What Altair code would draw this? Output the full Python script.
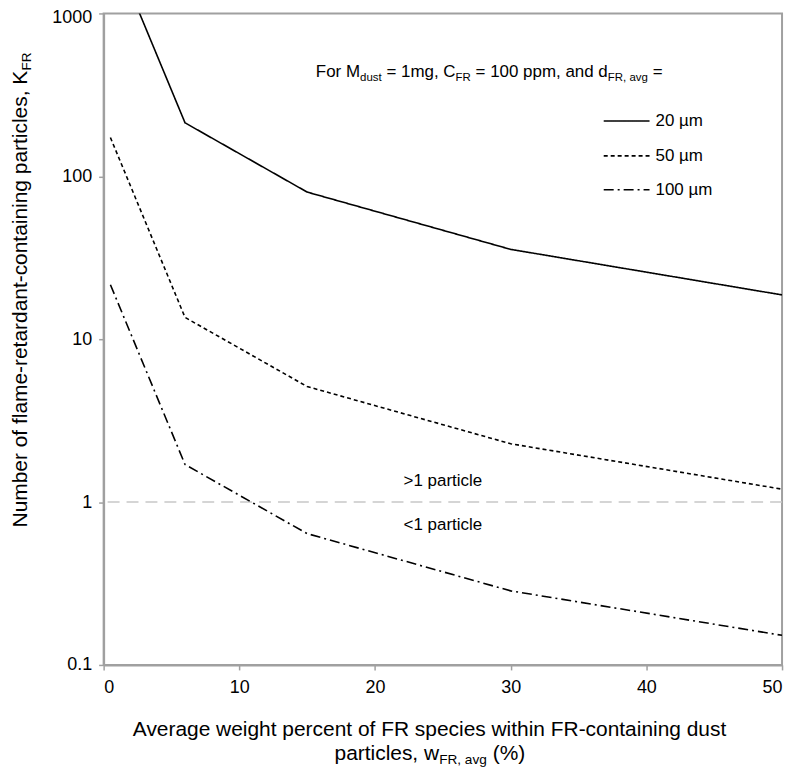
import altair as alt
import pandas as pd

# ---- data ----
w_fr = [0.5, 6, 15, 30, 50]
k_20um = [2700, 213, 80, 35.6, 18.7]
k_50um = [173, 13.6, 5.12, 2.28, 1.20]
k_100um = [21.6, 1.70, 0.64, 0.285, 0.152]
series_names = ["20 µm", "50 µm", "100 µm"]
y_tick_values = [0.1, 1, 10, 100, 1000]
x_tick_values = [0, 10, 20, 30, 40, 50]

FONT = "Liberation Sans"
W, H = 681, 654
DASHES = [[1, 0], [4, 3], [10, 4, 2, 4]]
AXIS_GRAY = "#a0a0a0"

# Arial / Liberation Sans advance widths (per 1000 em) for laying out sub-scripted titles
_LC = dict(zip("abcdefghijklmnopqrstuvwxyz",
               [556, 556, 500, 556, 556, 278, 556, 556, 222, 222, 500, 222, 833,
                556, 556, 556, 556, 333, 500, 278, 556, 500, 722, 500, 500, 500]))
_UC = dict(zip("ABCDEFGHIJKLMNOPQRSTUVWXYZ",
               [667, 667, 722, 722, 667, 611, 778, 722, 278, 500, 667, 556, 833,
                722, 778, 667, 778, 722, 667, 611, 722, 667, 944, 667, 667, 611]))
AW = {**_LC, **_UC, " ": 278, ",": 278, "-": 333, "=": 584, "(": 333, ")": 333,
      "%": 889, "µ": 556, ".": 278, "<": 584, ">": 584}
for d in "0123456789":
    AW[d] = 556


def tw(s, size):
    return sum(AW.get(c, 556) for c in s) / 1000.0 * size


def rich_text(segments, x0, y0, vertical=False):
    """segments: list of (text, fontSize, baseline shift). Returns text layers.
    Leading spaces are turned into an offset (SVG drops them)."""
    layers = []
    pos = 0.0
    for txt, size, shift in segments:
        core = txt.lstrip(" ")
        lead = tw(txt[: len(txt) - len(core)], size)
        start = pos + lead
        if vertical:
            x, y, ang = x0 + shift, y0 - start, 270
        else:
            x, y, ang = x0 + start, y0 + shift, 0
        props = dict(text=core, align="left", baseline="alphabetic",
                     font=FONT, fontSize=size, color="black")
        if ang:
            props["angle"] = ang
        layers.append(
            alt.Chart(alt.Data(values=[{}])).mark_text(**props)
            .encode(x=alt.value(x), y=alt.value(y))
        )
        pos += tw(txt, size)
    return layers


def total_width(segments):
    return sum(tw(t, s) for t, s, _ in segments)


# ---- main lines ----
rows = []
for name, vals in zip(series_names, [k_20um, k_50um, k_100um]):
    for xv, yv in zip(w_fr, vals):
        rows.append({"w": xv, "k": yv, "series": name})
df = pd.DataFrame(rows)

x_enc = alt.X("w:Q", scale=alt.Scale(domain=[0, 50], nice=False, zero=False),
              axis=alt.Axis(values=x_tick_values, title=None, grid=False,
                            tickSize=5, labelPadding=9))
y_enc = alt.Y("k:Q", scale=alt.Scale(type="log", domain=[0.1, 1000], nice=False),
              axis=alt.Axis(values=y_tick_values, format="~g", title=None, grid=False,
                            tickSize=5, labelPadding=7,
                            labelBaseline={"condition": {"test": "datum.value >= 1000", "value": "top"},
                                           "value": "middle"},
                            labelOffset={"condition": {"test": "datum.value >= 1000", "value": -5},
                                         "value": 0}))

lines = alt.Chart(df).mark_line(clip=True, color="black", strokeWidth=1.6).encode(
    x=x_enc,
    y=y_enc,
    strokeDash=alt.StrokeDash("series:N",
                              scale=alt.Scale(domain=series_names, range=DASHES),
                              legend=None),
    detail="series:N",
)

one_line = alt.Chart(alt.Data(values=[{}])).mark_rule(
    color="#c8c8c8", strokeWidth=1.5, strokeDash=[12, 7]
).encode(y=alt.datum(1))

above = alt.Chart(alt.Data(values=[{}])).mark_text(
    text=">1 particle", font=FONT, fontSize=17, color="black", align="center", baseline="middle"
).encode(x=alt.datum(25), y=alt.datum(1.35))
below = alt.Chart(alt.Data(values=[{}])).mark_text(
    text="<1 particle", font=FONT, fontSize=17, color="black", align="center", baseline="middle"
).encode(x=alt.datum(25), y=alt.datum(0.72))

# ---- manual legend ----
legend_layers = []
for i, (name, dash) in enumerate(zip(series_names, DASHES)):
    ly = [108, 143, 177][i]
    legend_layers.append(
        alt.Chart(alt.Data(values=[{}])).mark_rule(color="black", strokeWidth=1.6, strokeDash=dash)
        .encode(x=alt.value(502), x2=alt.value(548), y=alt.value(ly))
    )
    legend_layers.append(
        alt.Chart(alt.Data(values=[{}])).mark_text(
            text=name, font=FONT, fontSize=17, color="black", align="left", baseline="middle")
        .encode(x=alt.value(554), y=alt.value(ly))
    )

# ---- annotation with subscripts ----
MS, SS, SH = 17, 11.5, 4
annot = [("For M", MS, 0), ("dust", SS, SH), (" = 1mg, C", MS, 0), ("FR", SS, SH),
         (" = 100 ppm, and d", MS, 0), ("FR, avg", SS, SH), (" =", MS, 0)]
annot_layers = rich_text(annot, 213, 64)

# ---- axis titles ----
TS, TSS, TSH = 21, 13.7, 4
xt1 = [("Average weight percent of FR species within FR-containing dust", TS, 0)]
xt2 = [("particles, w", TS, 0), ("FR, avg", TSS, TSH), (" (%)", TS, 0)]
xc = 327.5
xt_layers = rich_text(xt1, xc - total_width(xt1) / 2, 725) + \
    rich_text(xt2, xc - total_width(xt2) / 2, 749)

yt = [("Number of flame-retardant-containing particles, K", TS, 0), ("FR", TSS, TSH)]
yt_layers = rich_text(yt, -77, 516, vertical=True)

chart = alt.layer(
    one_line, lines, above, below, *legend_layers, *annot_layers, *xt_layers, *yt_layers
).properties(
    width=W, height=H,
    autosize="none",
    padding={"left": 96, "top": 4, "right": 10, "bottom": 102},
).configure_view(
    stroke=AXIS_GRAY, strokeWidth=2
).configure_axis(
    domainColor=AXIS_GRAY, domainWidth=2, tickColor=AXIS_GRAY, tickWidth=1.5,
    labelFont=FONT, labelFontSize=18, labelColor="black",
)

chart.save("out.html", embed_options={"renderer": "svg", "actions": False})
